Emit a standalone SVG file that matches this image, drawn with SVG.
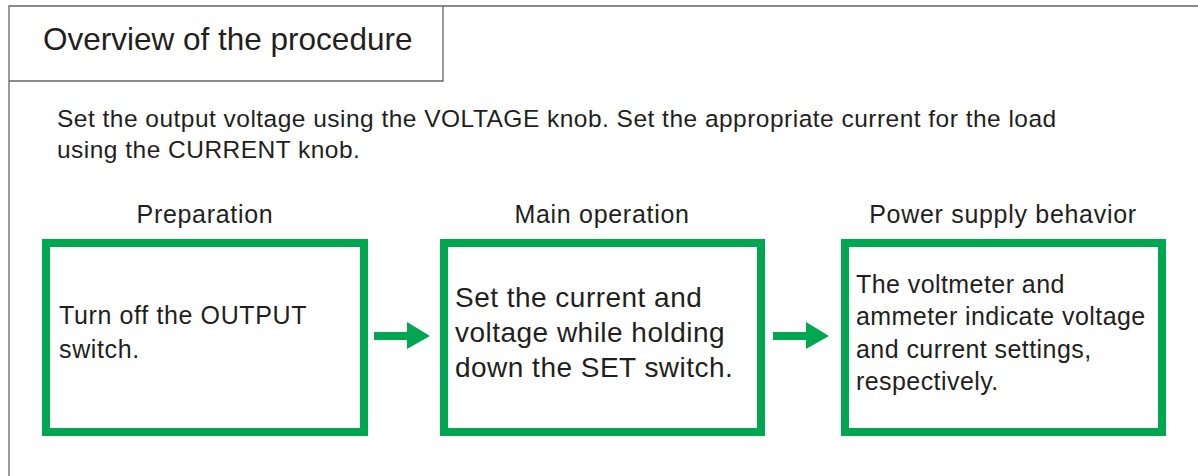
<svg xmlns="http://www.w3.org/2000/svg" width="1198" height="476" viewBox="0 0 1198 476">
<defs>
<style>
text{font-family:"Liberation Sans",Arial,sans-serif;fill:#231f20}
.frame{fill:none;stroke:#666;stroke-width:1.3}
.box{fill:#fff;stroke:#00a650;stroke-width:8}
.lbl{font-size:25px;letter-spacing:0.7px;text-anchor:middle}
.intro{font-size:24.5px;letter-spacing:0.48px}
.t1{font-size:25px;letter-spacing:0.63px}
.t2{font-size:28px;letter-spacing:0.48px}
.t3{font-size:25px;letter-spacing:0.43px}
.arrow{fill:#00a650}
</style>
</defs>
<rect width="1198" height="476" fill="#fff"/>
<g id="frame">
<path class="frame" d="M9,476 V6 H1198"/>
<path class="frame" d="M9,81 H443 V6"/>
<text x="43" y="50" font-size="31.5">Overview of the procedure</text>
</g>
<g id="intro">
<text class="intro" x="57" y="127">Set the output voltage using the VOLTAGE knob. Set the appropriate current for the load</text>
<text class="intro" x="57" y="158">using the CURRENT knob.</text>
</g>
<g id="node-preparation">
<text class="lbl" x="205" y="223">Preparation</text>
<rect class="box" x="46" y="243" width="318" height="189"/>
<text class="t1" x="59" y="324">Turn off the OUTPUT</text>
<text class="t1" x="59" y="358">switch.</text>
</g>
<g id="node-main">
<text class="lbl" x="602" y="223">Main operation</text>
<rect class="box" x="444" y="243" width="317" height="189"/>
<text class="t2" x="455" y="307">Set the current and</text>
<text class="t2" x="455" y="342">voltage while holding</text>
<text class="t2" x="455" y="377">down the SET switch.</text>
</g>
<g id="node-behavior">
<text class="lbl" x="1003" y="223">Power supply behavior</text>
<rect class="box" x="845" y="243" width="317" height="189"/>
<text class="t3" x="856" y="293">The voltmeter and</text>
<text class="t3" x="856" y="325">ammeter indicate voltage</text>
<text class="t3" x="856" y="358">and current settings,</text>
<text class="t3" x="856" y="390">respectively.</text>
</g>
<g id="connectors">
<polygon class="arrow" points="374,332 407,332 407,322 430,336 407,349 407,340 374,340"/>
<polygon class="arrow" points="773,332 806,332 806,322 829,336 806,349 806,340 773,340"/>
</g>
</svg>
